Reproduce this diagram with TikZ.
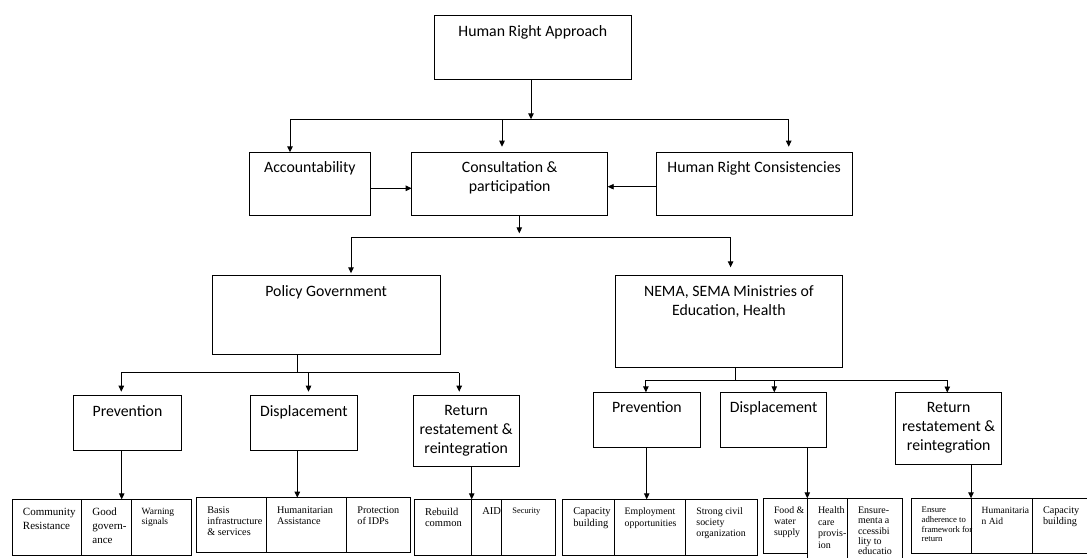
\documentclass[tikz,border=0pt]{standalone}
\usepackage{fontspec}
\setmainfont{Carlito}
\newfontfamily\cellfont{Liberation Serif}
\usetikzlibrary{arrows.meta}

\begin{document}
\begin{tikzpicture}[x=1pt, y=-1pt,
    box/.style={draw, line width=0.9pt, inner sep=0pt, outer sep=0pt, anchor=north west},
    ttl/.style={anchor=north, inner sep=0pt, yshift=-9.5pt, align=center, font=\fontsize{15.8}{19}\selectfont},
    cell/.style={draw, line width=0.9pt, inner sep=0pt, outer sep=0pt, anchor=north west},
    celltxt/.style={anchor=north west, inner sep=0pt, align=left},
    conn/.style={line width=0.9pt},
    arr/.style={conn, -{Triangle[length=6pt,width=5.5pt]}}]

    \useasboundingbox (0,0) rectangle (1087,557);

    % Boxes of the three upper levels
    \node[box, minimum width=196.3pt, minimum height=63.6pt] (hra) at (434.7,15.7) {};
    \node[box, minimum width=121.7pt, minimum height=63.4pt] (acc) at (249,152.3) {};
    \node[box, minimum width=196pt, minimum height=63.4pt] (con) at (411.7,152.3) {};
    \node[box, minimum width=196.3pt, minimum height=63.4pt] (hrc) at (656,152.3) {};
    \node[box, minimum width=227.6pt, minimum height=78.6pt] (pol) at (212.4,275.7) {};
    \node[box, minimum width=227.8pt, minimum height=92pt] (nema) at (615,275.7) {};
    \node[box, minimum width=107.1pt, minimum height=55pt] (prevA) at (73.9,395.7) {};
    \node[box, minimum width=107.1pt, minimum height=55pt] (dispA) at (250.3,395.7) {};
    \node[box, minimum width=106.3pt, minimum height=71pt] (retA) at (413,395.7) {};
    \node[box, minimum width=106.2pt, minimum height=55pt] (prevB) at (593.8,392.3) {};
    \node[box, minimum width=106.2pt, minimum height=55pt] (dispB) at (720.5,392.3) {};
    \node[box, minimum width=105.5pt, minimum height=71.8pt] (retB) at (895.9,392.5) {};

    % Titles at the top of each box
    \node[ttl] (hraT) at (hra.north) {Human Right Approach};
    \node[ttl] (accT) at (acc.north) {Accountability};
    \node[ttl] (conT) at (con.north) {Consultation \&\\participation};
    \node[ttl] (hrcT) at (hrc.north) {Human Right Consistencies};
    \node[ttl] (polT) at (pol.north) {Policy Government};
    \node[ttl] (nemaT) at (nema.north) {NEMA, SEMA Ministries of\\Education, Health};
    \node[ttl] (prevAT) at (prevA.north) {Prevention};
    \node[ttl] (dispAT) at (dispA.north) {Displacement};
    \node[ttl] (retAT) at (retA.north) {Return\\restatement \&\\reintegration};
    \node[ttl] (prevBT) at (prevB.north) {Prevention};
    \node[ttl] (dispBT) at (dispB.north) {Displacement};
    \node[ttl] (retBT) at (retB.north) {Return\\restatement \&\\reintegration};

    % Top box to first row
    \coordinate (jTop) at (531,119.3);
    \coordinate (dAcc) at (290,119.3);
    \coordinate (dCon) at (502,119.3);
    \coordinate (dHrc) at (788.7,119.3);
    \draw[arr] (jTop |- hra.south) -- (jTop);
    \draw[conn] (dAcc) -- (dHrc);
    \draw[arr] (dAcc) -- (dAcc |- acc.north);
    \draw[arr, shorten >=5.6pt] (dCon) -- (dCon |- con.north);
    \draw[arr, shorten >=5.6pt] (dHrc) -- (dHrc |- hrc.north);

    % Side boxes into Consultation
    \draw[arr] ([yshift=-4.3pt]acc.east) -- ([yshift=-4.3pt]con.west);
    \draw[arr] ([yshift=-2.7pt]hrc.west) -- ([yshift=-2.7pt]con.east);

    % Consultation to second level
    \coordinate (jMid) at (519.3,233.3);
    \coordinate (dPol) at (351,237.5);
    \coordinate (dNema) at (730.6,237.5);
    \draw[arr] (jMid |- con.south) -- (jMid);
    \draw[conn] (dPol) -- (dNema);
    \draw[arr, shorten >=2.4pt] (dPol) -- (dPol |- pol.north);
    \draw[arr, shorten >=8.4pt] (dNema) -- (dNema |- nema.north);

    % Policy Government to its three boxes
    \coordinate (jPol) at (297.7,372.7);
    \coordinate (dPrevA) at (121.3,372.7);
    \coordinate (dDispA) at (308.5,372.7);
    \coordinate (dRetA) at (459.2,372.7);
    \draw[conn] (jPol |- pol.south) -- (jPol);
    \draw[conn] (dPrevA) -- (dRetA);
    \foreach \d/\b in {dPrevA/prevA, dDispA/dispA, dRetA/retA}
        \draw[arr, shorten >=4pt] (\d) -- (\d |- \b.north);

    % NEMA to its three boxes
    \coordinate (jNema) at (735.5,380);
    \coordinate (dPrevB) at (645.9,380);
    \coordinate (dDispB) at (774.3,380);
    \coordinate (dRetB) at (947.3,380);
    \draw[conn] (jNema |- nema.south) -- (jNema);
    \draw[conn] (dPrevB) -- (dRetB);
    \foreach \d/\b in {dPrevB/prevB, dDispB/dispB, dRetB/retB}
        \draw[arr] (\d) -- (\d |- \b.north);

    % Bottom row of cells
    \foreach \cname/\xl/\xr/\yt/\yb/\fs/\bs/\txt in {
        a1/12.3/81.7/499.3/555.7/11/14/{Community\\Resistance},
        a2/81.7/131/499.3/555.7/11/14/{Good\\govern-\\ance},
        a3/131/191.7/499.3/555.7/9.5/10/{Warning\\signals},
        b1/196.7/266.3/497.7/552.7/10.2/11/{Basis\\infrastructure\\\& services},
        b2/266.3/346.7/497.7/552.7/10.2/11.5/{Humanitarian\\Assistance},
        b3/346.7/410/497.7/552.7/10.2/11.5/{Protection\\of IDPs},
        c1/414.3/471.7/499.3/555.7/10.5/11.6/{Rebuild\\common},
        c2/471.7/501.7/499.3/555.7/10.5/11.6/{AID},
        c3/501.7/555.7/499.3/555.7/8.4/10/{Security},
        d1/562.7/614/499.3/555.7/10.5/11.6/{Capacity\\building},
        d2/614/685.7/499.3/555.7/9.8/11.6/{Employment\\opportunities},
        d3/685.7/757.3/499.3/555.7/9.9/10.7/{Strong civil\\society\\organization},
        e1/763.3/807.3/498.3/553.3/9.8/11/{Food \&\\water\\supply},
        e2/807.3/847.3/498.3/565/10/11.4/{Health\\care\\provis-\\ion},
        e3/847.3/902.3/498.3/565/10/10.3/{Ensure-\\menta a\\ccessibi\\lity to\\educatio},
        f1/911/971/498.3/553.3/8.7/9.7/{Ensure\\adherence to\\framework for\\return},
        f2/971/1032.3/498.3/553.3/9.5/11/{Humanitaria\\n Aid},
        f3/1032.3/1095/498.3/553.3/10.2/11/{Capacity\\building}}
    {
        \node[cell, minimum width={(\xr-\xl)*1pt}, minimum height={(\yb-\yt)*1pt}] (\cname) at (\xl,\yt) {};
        \node[celltxt, font=\cellfont\fontsize{\fs}{\bs}\selectfont] (\cname-t) at ([xshift=10.5pt,yshift=-8.5pt]\cname.north west) {\txt};
    }

    % Arrows down to the cells
    \foreach \x/\b/\c in {121.7/prevA/a2, 297.3/dispA/b2, 471.7/retA/c2, 646.7/prevB/d2, 807.3/dispB/e2, 971/retB/f2}
    {
        \coordinate (xDrop) at (\x,0);
        \draw[arr] (xDrop |- \b.south) -- (xDrop |- \c.north);
    }

\end{tikzpicture}
\end{document}
